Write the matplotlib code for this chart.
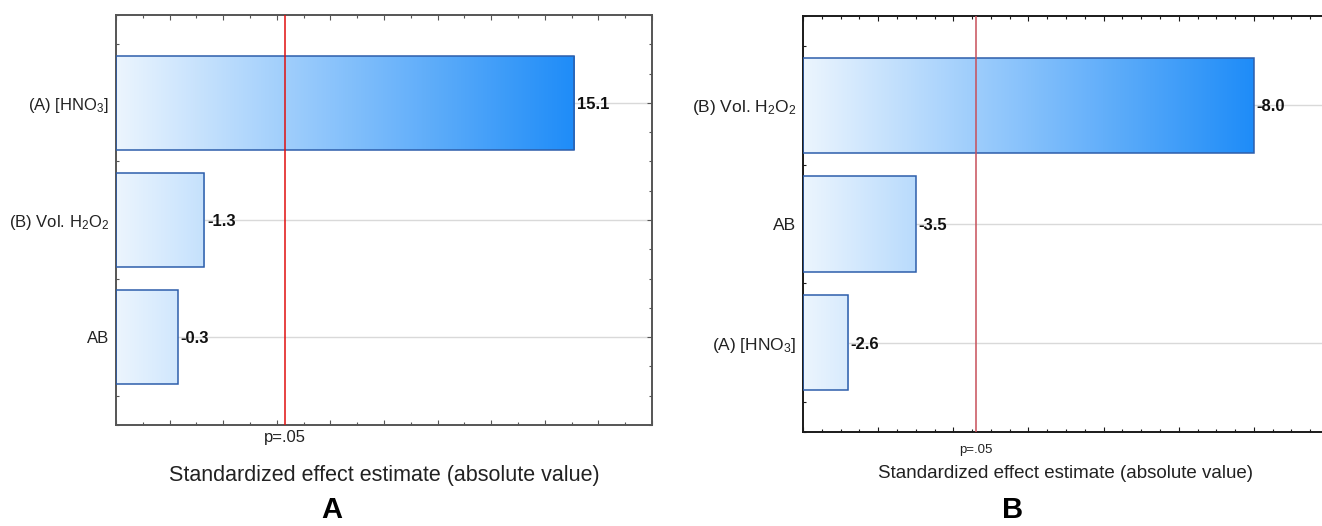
import numpy as np
import matplotlib.pyplot as plt
from matplotlib.colors import LinearSegmentedColormap
from matplotlib.ticker import MultipleLocator

plt.rcParams['font.family'] = ['Liberation Sans', 'DejaVu Sans']
plt.rcParams['mathtext.default'] = 'regular'

# Pareto chart data (standardized effects)
labels_a = ['(A) [HNO$_3$]', '(B) Vol. H$_2$O$_2$', 'AB']
effects_a = [15.1, -1.3, -0.3]
labels_b = ['(B) Vol. H$_2$O$_2$', 'AB', '(A) [HNO$_3$]']
effects_b = [-8.0, -3.5, -2.6]
p_crit = 4.303          # t critical, p=.05
xlim_a = (-2, 18)
xlim_b = (2, 9)

W, H = 1322, 526
cmap = LinearSegmentedColormap.from_list('bar_grad', ['#ecf5fe', '#1e8cf8'])


def pareto(ax, labels, effects, xlim, major, minor, spine_col, red,
           lab_size, val_size, p_size, p_off):
    vals = np.abs(np.array(effects))
    y = np.arange(len(labels))
    ax.set_xlim(xlim)
    ax.set_ylim(len(labels) - 0.25, -0.75)

    for yi in y:
        ax.axhline(yi, color='#d9d9d9', lw=1, zorder=0)

    bars = ax.barh(y, vals - xlim[0], left=xlim[0], height=0.8,
                   facecolor='none', edgecolor='#2d5eab', lw=1.1, zorder=3)
    grad = np.linspace(0, 1, 256).reshape(1, -1)
    for b, yi in zip(bars, y):
        im = ax.imshow(grad, cmap=cmap, aspect='auto', zorder=2,
                       extent=(xlim[0], vals.max(), yi + 0.4, yi - 0.4))
        im.set_clip_path(b)
    ax.set_xlim(xlim)
    ax.set_ylim(len(labels) - 0.25, -0.75)

    for v, e, yi in zip(vals, effects, y):
        ax.annotate(f'{e:.1f}', xy=(v, yi), xytext=(2, 0),
                    textcoords='offset points', va='center_baseline',
                    ha='left', fontsize=val_size, fontweight='bold',
                    color='#111111', zorder=5)

    ax.axvline(p_crit, color=red, lw=1.1, zorder=4)
    ax.annotate('p=.05', xy=(p_crit, 0), xycoords=('data', 'axes fraction'),
                xytext=(0, p_off), textcoords='offset points',
                ha='center', va='center', fontsize=p_size, color='#222222')

    ax.set_yticks(y)
    ax.set_yticklabels(labels, fontsize=lab_size, color='#222222')
    ax.xaxis.set_major_locator(MultipleLocator(major))
    ax.xaxis.set_minor_locator(MultipleLocator(minor))
    ax.yaxis.set_minor_locator(MultipleLocator(0.25))
    ax.tick_params(which='both', direction='in', top=True, right=True,
                   labelbottom=False, color=spine_col, pad=5)
    ax.tick_params(which='major', length=3.5, width=0.8)
    ax.tick_params(which='minor', length=2.5, width=0.8)
    for s in ax.spines.values():
        s.set_color(spine_col)
        s.set_linewidth(1.4)


fig = plt.figure(figsize=(W / 100, H / 100), dpi=100)

ax1 = fig.add_axes([116 / W, 1 - 425 / H, 536 / W, 410 / H])
pareto(ax1, labels_a, effects_a, xlim_a, 2, 1, '#555555', '#e01010',
       12, 12, 12, -9)

ax2 = fig.add_axes([803 / W, 1 - 432 / H, 526 / W, 416 / H])
pareto(ax2, labels_b, effects_b, xlim_b, 1, 0.25, '#1a1a1a', '#c8505a',
       12.5, 12, 9.5, -13)

fig.text(384 / W, 1 - 475 / H, 'Standardized effect estimate (absolute value)',
         ha='center', va='center', fontsize=15.5, color='#222222')
fig.text(1066 / W, 1 - 474 / H, 'Standardized effect estimate (absolute value)',
         ha='center', va='center', fontsize=13.5, color='#222222')
fig.text(332 / W, 1 - 510 / H, 'A', ha='center', va='center',
         fontsize=21, fontweight='bold')
fig.text(1013 / W, 1 - 510 / H, 'B', ha='center', va='center',
         fontsize=21, fontweight='bold')

fig.savefig('out.png', dpi=100)
